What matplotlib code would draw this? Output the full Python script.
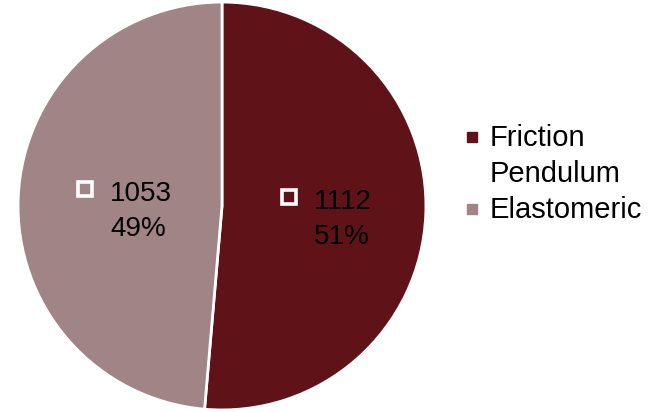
import numpy as np
import matplotlib
matplotlib.use("Agg")
from matplotlib import pyplot as plt
from matplotlib.transforms import ScaledTranslation

plt.rcParams["font.family"] = ["Liberation Sans", "DejaVu Sans"]

### bearing types and counts
labels = ["Friction\nPendulum", "Elastomeric"]
counts = [1112, 1053]
colors = ["#5f1318", "#a08486"]

W, H, DPI = 656, 412, 100
fig = plt.figure(figsize=(W / DPI, H / DPI), dpi=DPI)
ax = fig.add_axes([0.0274, 0.005, 0.622, 0.99])

wedges, _ = ax.pie(counts, colors=colors, startangle=90, counterclock=False,
                   wedgeprops=dict(edgecolor="white", linewidth=2))
ax.set_xlim(-1, 1)
ax.set_ylim(-1, 1)
ax.set_aspect("equal")


def shifted(dx, dy):
    """data transform moved by dx, dy pixels (dy counts downwards)"""
    return ax.transData + ScaledTranslation(dx / DPI, -dy / DPI, fig.dpi_scale_trans)


total = sum(counts)
for wedge, n, col in zip(wedges, counts, colors):
    mid = np.deg2rad((wedge.theta1 + wedge.theta2) / 2)
    x, y = 0.5 * np.cos(mid), 0.5 * np.sin(mid)
    pct = round(100 * n / total)
    ax.plot([x], [y], marker="s", markersize=10.5, markerfacecolor=col,
            markeredgecolor="white", markeredgewidth=2.6, transform=shifted(-35, -13))
    ax.text(x, y, str(n), ha="left", va="baseline", fontsize=20,
            transform=shifted(-10, -1))
    ax.text(x, y, f"{pct}%", ha="left", va="baseline", fontsize=20,
            transform=shifted(-10, 34))

### legend drawn by hand so the key sits on the first line of the label
key_y = [136.5, 209]
base_y = [146, 218]
for lab, col, ky, by in zip(labels, colors, key_y, base_y):
    fig.lines.append(plt.Line2D([472.5 / W], [1 - ky / H], transform=fig.transFigure,
                                marker="s", markersize=6.8, color=col, linestyle="none"))
    for i, line in enumerate(lab.split("\n")):
        fig.text(490 / W, 1 - (by + 36 * i) / H, line, ha="left", va="baseline",
                 fontsize=21)

plt.savefig("out.png", dpi=DPI)
